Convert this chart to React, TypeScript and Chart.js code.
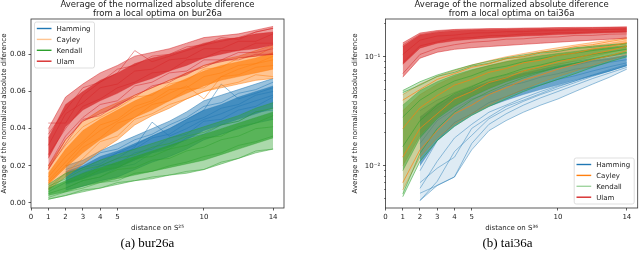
import React, { useEffect, useRef } from 'react';
import { Chart, registerables } from 'chart.js';

Chart.register(...registerables);
Chart.defaults.font.family = "'DejaVu Sans', sans-serif";

// ---------- shared axes ----------
const distances = [1, 2, 3, 4, 5, 6, 7, 8, 9, 10, 11, 12, 13, 14];
const xTickValues = [0, 1, 2, 3, 4, 5, 10, 14];
const seriesNames = ['Hamming', 'Cayley', 'Kendall', 'Ulam'];

// ---------- (a) bur26a : linear y ----------
const burYTicks = [0, 0.02, 0.04, 0.06, 0.08];

const burUlamLo = [0.018, 0.034, 0.044, 0.048, 0.052, 0.058, 0.062, 0.066, 0.069, 0.074, 0.076, 0.078, 0.079, 0.080];
const burUlamHi = [0.040, 0.057, 0.064, 0.070, 0.074, 0.079, 0.081, 0.083, 0.086, 0.089, 0.090, 0.091, 0.093, 0.095];
const burUlamCoreLo = [0.024, 0.041, 0.050, 0.055, 0.059, 0.064, 0.067, 0.071, 0.074, 0.078, 0.080, 0.082, 0.083, 0.085];
const burUlamCoreHi = [0.035, 0.053, 0.060, 0.066, 0.070, 0.075, 0.078, 0.080, 0.083, 0.086, 0.088, 0.089, 0.091, 0.092];
const burUlam1 = [0.037, 0.050, 0.062, 0.065, 0.072, 0.074, 0.079, 0.080, 0.084, 0.085, 0.089, 0.088, 0.092, 0.094];
const burUlam2 = [0.031, 0.048, 0.054, 0.062, 0.064, 0.071, 0.072, 0.077, 0.078, 0.083, 0.083, 0.087, 0.087, 0.091];
const burUlam3 = [0.026, 0.040, 0.052, 0.056, 0.062, 0.065, 0.070, 0.071, 0.077, 0.078, 0.082, 0.082, 0.086, 0.086];
const burUlam4 = [0.020, 0.036, 0.046, 0.053, 0.055, 0.063, 0.065, 0.070, 0.071, 0.077, 0.077, 0.081, 0.081, 0.083];
const burUlamOut1 = [0.043, 0.043, 0.058, 0.065, 0.070, 0.082, 0.076, 0.079, 0.082, 0.085, 0.087, 0.089, 0.092, 0.094];
const burUlamOut2 = [0.018, 0.032, 0.045, 0.047, 0.053, 0.057, 0.063, 0.065, 0.070, 0.073, 0.077, 0.077, 0.080, 0.080];

const burCayleyLo = [0.007, 0.014, 0.021, 0.028, 0.034, 0.042, 0.047, 0.051, 0.056, 0.060, 0.062, 0.064, 0.066, 0.067];
const burCayleyHi = [0.020, 0.034, 0.044, 0.050, 0.054, 0.058, 0.062, 0.066, 0.070, 0.074, 0.077, 0.079, 0.082, 0.085];
const burCayleyCoreLo = [0.010, 0.019, 0.027, 0.034, 0.039, 0.046, 0.050, 0.055, 0.059, 0.063, 0.066, 0.068, 0.070, 0.072];
const burCayleyCoreHi = [0.016, 0.029, 0.039, 0.045, 0.050, 0.055, 0.059, 0.063, 0.067, 0.071, 0.074, 0.076, 0.078, 0.081];
const burCayley1 = [0.019, 0.031, 0.041, 0.046, 0.051, 0.057, 0.058, 0.064, 0.066, 0.072, 0.073, 0.078, 0.079, 0.084];
const burCayley2 = [0.014, 0.025, 0.033, 0.042, 0.045, 0.052, 0.055, 0.061, 0.062, 0.068, 0.070, 0.074, 0.075, 0.079];
const burCayley3 = [0.011, 0.020, 0.030, 0.035, 0.043, 0.046, 0.053, 0.055, 0.061, 0.062, 0.068, 0.069, 0.073, 0.074];
const burCayley4 = [0.008, 0.016, 0.024, 0.033, 0.036, 0.045, 0.048, 0.053, 0.056, 0.060, 0.063, 0.065, 0.069, 0.068];
const burCayleyOut = [0.012, 0.022, 0.032, 0.039, 0.044, 0.050, 0.054, 0.059, 0.063, 0.056, 0.068, 0.072, 0.075, 0.077];

const burHammingLo = [null, 0.007, 0.009, 0.012, 0.014, 0.018, 0.022, 0.025, 0.029, 0.034, 0.037, 0.040, 0.043, 0.045];
const burHammingHi = [null, 0.020, 0.023, 0.028, 0.032, 0.036, 0.040, 0.044, 0.049, 0.055, 0.058, 0.061, 0.064, 0.067];
const burHammingCoreLo = [null, 0.010, 0.013, 0.016, 0.019, 0.023, 0.027, 0.030, 0.034, 0.039, 0.042, 0.045, 0.048, 0.051];
const burHammingCoreHi = [null, 0.017, 0.020, 0.025, 0.028, 0.032, 0.036, 0.040, 0.045, 0.050, 0.053, 0.057, 0.060, 0.063];
const burHamming1 = [null, 0.018, 0.021, 0.027, 0.029, 0.034, 0.037, 0.042, 0.046, 0.052, 0.054, 0.059, 0.061, 0.065];
const burHamming2 = [null, 0.014, 0.019, 0.021, 0.027, 0.029, 0.035, 0.037, 0.043, 0.046, 0.051, 0.053, 0.058, 0.060];
const burHamming3 = [null, 0.011, 0.014, 0.020, 0.021, 0.027, 0.029, 0.035, 0.037, 0.044, 0.045, 0.050, 0.052, 0.057];
const burHamming4 = [null, 0.008, 0.012, 0.014, 0.019, 0.021, 0.027, 0.029, 0.035, 0.037, 0.042, 0.044, 0.049, 0.050];
const burHammingOut1 = [null, 0.012, 0.016, 0.020, 0.024, 0.030, 0.0435, 0.036, 0.040, 0.045, 0.048, 0.052, 0.055, 0.058];
const burHammingOut2 = [null, 0.015, 0.019, 0.023, 0.027, 0.031, 0.036, 0.040, 0.045, 0.050, 0.064, 0.056, 0.059, 0.062];

const burKendallLo = [0.002, 0.004, 0.006, 0.008, 0.010, 0.012, 0.013, 0.015, 0.016, 0.018, 0.021, 0.024, 0.027, 0.029];
const burKendallHi = [0.010, 0.016, 0.019, 0.023, 0.026, 0.029, 0.032, 0.035, 0.038, 0.041, 0.044, 0.047, 0.051, 0.054];
const burKendallCoreLo = [0.004, 0.006, 0.009, 0.011, 0.013, 0.015, 0.017, 0.019, 0.021, 0.023, 0.026, 0.029, 0.032, 0.035];
const burKendallCoreHi = [0.008, 0.012, 0.016, 0.019, 0.022, 0.025, 0.028, 0.031, 0.034, 0.037, 0.040, 0.043, 0.046, 0.049];
const burKendall1 = [0.009, 0.013, 0.018, 0.020, 0.024, 0.026, 0.030, 0.032, 0.036, 0.038, 0.042, 0.044, 0.049, 0.051];
const burKendall2 = [0.006, 0.011, 0.013, 0.018, 0.019, 0.024, 0.025, 0.029, 0.031, 0.035, 0.036, 0.041, 0.043, 0.047];
const burKendall3 = [0.005, 0.008, 0.012, 0.014, 0.018, 0.019, 0.023, 0.024, 0.028, 0.030, 0.034, 0.036, 0.040, 0.041];
const burKendall4 = [0.003, 0.006, 0.008, 0.011, 0.012, 0.016, 0.017, 0.020, 0.022, 0.025, 0.027, 0.031, 0.033, 0.036];
const burKendall5 = [0.002, 0.004, 0.007, 0.008, 0.011, 0.012, 0.014, 0.015, 0.017, 0.018, 0.022, 0.024, 0.028, 0.029];

// ---------- (b) tai36a : log y ----------
const taiYMajorTicks = [0.01, 0.1];
const taiYMajorLabels = ['10⁻²', '10⁻¹'];
const taiYMinorTicks = [0.005, 0.006, 0.007, 0.008, 0.009, 0.02, 0.03, 0.04, 0.05, 0.06, 0.07, 0.08, 0.09, 0.2];

const taiHammingLo = [null, 0.0048, 0.0066, 0.0079, 0.014, 0.021, 0.026, 0.031, 0.036, 0.041, 0.048, 0.056, 0.065, 0.077];
const taiHammingHi = [null, 0.032, 0.040, 0.047, 0.054, 0.062, 0.068, 0.074, 0.080, 0.086, 0.091, 0.096, 0.101, 0.107];
const taiHammingCoreLo = [null, 0.010, 0.017, 0.023, 0.029, 0.035, 0.040, 0.045, 0.050, 0.055, 0.061, 0.067, 0.074, 0.083];
const taiHammingCoreHi = [null, 0.028, 0.037, 0.045, 0.052, 0.059, 0.065, 0.071, 0.077, 0.083, 0.088, 0.093, 0.098, 0.104];
const taiHamming1 = [null, 0.026, 0.034, 0.043, 0.049, 0.057, 0.061, 0.069, 0.073, 0.080, 0.084, 0.091, 0.095, 0.102];
const taiHamming2 = [null, 0.016, 0.026, 0.033, 0.041, 0.046, 0.054, 0.058, 0.065, 0.070, 0.077, 0.081, 0.089, 0.094];
const taiHamming3 = [null, 0.009, 0.017, 0.025, 0.030, 0.038, 0.043, 0.050, 0.055, 0.062, 0.067, 0.074, 0.081, 0.088];
const taiHamming4 = [null, 0.0062, 0.011, 0.018, 0.024, 0.031, 0.036, 0.042, 0.048, 0.054, 0.060, 0.067, 0.074, 0.083];
const taiHammingOut1 = [null, 0.0056, 0.0066, 0.0079, 0.016, 0.024, 0.030, 0.036, 0.042, 0.048, 0.055, 0.063, 0.071, 0.080];
const taiHammingOut2 = [null, 0.0048, 0.0072, 0.0135, 0.019, 0.027, 0.033, 0.039, 0.045, 0.051, 0.058, 0.066, 0.074, 0.083];
const taiHammingOut3 = [null, 0.0070, 0.0095, 0.012, 0.022, 0.028, 0.035, 0.040, 0.046, 0.053, 0.060, 0.068, 0.076, 0.085];

const taiCayleyLo = [0.006, 0.012, 0.018, 0.024, 0.030, 0.036, 0.043, 0.050, 0.058, 0.066, 0.074, 0.083, 0.093, 0.105];
const taiCayleyHi = [0.045, 0.056, 0.066, 0.075, 0.084, 0.092, 0.100, 0.107, 0.114, 0.121, 0.128, 0.135, 0.142, 0.150];
const taiCayleyCoreLo = [0.010, 0.019, 0.028, 0.036, 0.044, 0.052, 0.060, 0.068, 0.076, 0.084, 0.092, 0.100, 0.109, 0.118];
const taiCayleyCoreHi = [0.032, 0.045, 0.056, 0.066, 0.075, 0.083, 0.091, 0.098, 0.105, 0.112, 0.119, 0.126, 0.133, 0.142];
const taiCayley1 = [0.040, 0.050, 0.062, 0.070, 0.080, 0.086, 0.096, 0.101, 0.110, 0.115, 0.124, 0.129, 0.138, 0.146];
const taiCayley2 = [0.022, 0.034, 0.044, 0.055, 0.062, 0.072, 0.078, 0.088, 0.093, 0.103, 0.108, 0.118, 0.124, 0.135];
const taiCayley3 = [0.012, 0.022, 0.030, 0.041, 0.048, 0.058, 0.064, 0.074, 0.081, 0.090, 0.097, 0.106, 0.114, 0.125];
const taiCayley4 = [0.007, 0.014, 0.021, 0.030, 0.036, 0.045, 0.052, 0.061, 0.068, 0.077, 0.085, 0.094, 0.102, 0.114];

const taiKendallLo = [0.0052, 0.011, 0.017, 0.023, 0.029, 0.035, 0.041, 0.048, 0.055, 0.062, 0.070, 0.080, 0.090, 0.100];
const taiKendallHi = [0.049, 0.059, 0.068, 0.076, 0.084, 0.091, 0.098, 0.104, 0.110, 0.116, 0.121, 0.125, 0.129, 0.133];
const taiKendallCoreLo = [0.009, 0.018, 0.027, 0.035, 0.043, 0.051, 0.059, 0.066, 0.073, 0.080, 0.087, 0.094, 0.101, 0.108];
const taiKendallCoreHi = [0.036, 0.049, 0.059, 0.068, 0.076, 0.083, 0.090, 0.096, 0.102, 0.107, 0.112, 0.117, 0.122, 0.127];
const taiKendall1 = [0.047, 0.055, 0.066, 0.072, 0.082, 0.087, 0.096, 0.100, 0.108, 0.112, 0.119, 0.122, 0.127, 0.131];
const taiKendall2 = [0.028, 0.040, 0.050, 0.060, 0.067, 0.077, 0.082, 0.090, 0.096, 0.103, 0.108, 0.114, 0.119, 0.124];
const taiKendall3 = [0.015, 0.026, 0.036, 0.046, 0.053, 0.063, 0.069, 0.078, 0.084, 0.092, 0.098, 0.105, 0.111, 0.117];
const taiKendall4 = [0.0055, 0.013, 0.022, 0.031, 0.040, 0.048, 0.056, 0.064, 0.072, 0.080, 0.087, 0.095, 0.103, 0.110];

const taiUlamLo = [0.065, 0.097, 0.110, 0.117, 0.121, 0.124, 0.127, 0.130, 0.133, 0.136, 0.139, 0.142, 0.145, 0.148];
const taiUlamHi = [0.134, 0.165, 0.174, 0.178, 0.180, 0.181, 0.182, 0.183, 0.184, 0.185, 0.186, 0.186, 0.187, 0.188];
const taiUlamCoreLo = [0.085, 0.120, 0.133, 0.140, 0.145, 0.149, 0.152, 0.155, 0.157, 0.160, 0.162, 0.164, 0.166, 0.168];
const taiUlamCoreHi = [0.125, 0.158, 0.168, 0.173, 0.175, 0.177, 0.178, 0.179, 0.180, 0.181, 0.182, 0.182, 0.183, 0.184];
const taiUlam1 = [0.128, 0.160, 0.170, 0.176, 0.176, 0.180, 0.179, 0.182, 0.182, 0.184, 0.183, 0.185, 0.185, 0.186];
const taiUlam2 = [0.105, 0.142, 0.155, 0.158, 0.165, 0.166, 0.170, 0.170, 0.173, 0.174, 0.176, 0.176, 0.178, 0.179];
const taiUlam3 = [0.088, 0.126, 0.137, 0.148, 0.150, 0.156, 0.157, 0.162, 0.162, 0.166, 0.166, 0.169, 0.170, 0.172];
const taiUlam4 = [0.070, 0.105, 0.120, 0.129, 0.136, 0.139, 0.145, 0.146, 0.151, 0.152, 0.157, 0.157, 0.161, 0.162];

// ---------- helpers ----------
const RGB = {
  Hamming: '31,119,180',
  Cayley: '255,127,14',
  Kendall: '44,160,44',
  Ulam: '214,39,40',
};

type Arr = (number | null)[];
type Group = {
  rgb: string;
  lo?: Arr;
  hi?: Arr;
  coreLo?: Arr;
  coreHi?: Arr;
  lines: Arr[];
  outerA?: number;
  coreA?: number;
  lineA: number;
};

function toPoints(arr: Arr) {
  const out: { x: number; y: number }[] = [];
  arr.forEach((v, i) => {
    if (v !== null) out.push({ x: distances[i], y: v });
  });
  return out;
}

function buildDatasets(groups: Group[]) {
  const list: any[] = [];
  for (const g of groups) {
    const base = {
      borderWidth: 0.9,
      pointRadius: 0,
      pointHoverRadius: 0,
      tension: 0,
      borderColor: `rgba(${g.rgb},${g.lineA})`,
      yAxisID: 'y',
    };
    if (g.lo && g.hi) {
      list.push({ ...base, data: toPoints(g.lo), fill: false });
      list.push({ ...base, data: toPoints(g.hi), fill: '-1', backgroundColor: `rgba(${g.rgb},${g.outerA})` });
    }
    if (g.coreLo && g.coreHi) {
      list.push({ ...base, borderWidth: 0.6, data: toPoints(g.coreLo), fill: false });
      list.push({ ...base, borderWidth: 0.6, data: toPoints(g.coreHi), fill: '-1', backgroundColor: `rgba(${g.rgb},${g.coreA})` });
    }
    for (const l of g.lines) list.push({ ...base, data: toPoints(l), fill: false });
  }
  const n = list.length;
  list.forEach((d, i) => {
    d.order = n - i;
  });
  return list;
}

function makeOverlay(corner: 'tl' | 'br', colors: string[]) {
  return {
    id: 'overlay_' + corner,
    afterDatasetsDraw(chart: any) {
      const { ctx, chartArea: a } = chart;
      ctx.save();
      ctx.strokeStyle = '#333';
      ctx.lineWidth = 0.8;
      ctx.strokeRect(a.left, a.top, a.right - a.left, a.bottom - a.top);
      const w = 60;
      const h = 46;
      const x0 = corner === 'tl' ? a.left + 3.5 : a.right - 3.5 - w;
      const y0 = corner === 'tl' ? a.top + 3 : a.bottom - 4 - h;
      ctx.beginPath();
      ctx.roundRect(x0, y0, w, h, 2);
      ctx.fillStyle = 'rgba(255,255,255,0.8)';
      ctx.fill();
      ctx.strokeStyle = 'rgba(204,204,204,0.8)';
      ctx.lineWidth = 0.8;
      ctx.stroke();
      ctx.font = "7px 'DejaVu Sans'";
      ctx.textBaseline = 'middle';
      ctx.textAlign = 'left';
      seriesNames.forEach((name, i) => {
        const y = y0 + 6.5 + i * 10.9;
        ctx.beginPath();
        ctx.moveTo(x0 + 2.3, y);
        ctx.lineTo(x0 + 17, y);
        ctx.strokeStyle = colors[i];
        ctx.lineWidth = 1.4;
        ctx.stroke();
        ctx.fillStyle = '#222';
        ctx.fillText(name, x0 + 22, y + 0.5);
      });
      ctx.restore();
    },
  };
}

const tickFont = { size: 7 };
const textColor = '#222';
const yTitle = 'Average of the normalized absolute diference';

function xScale(title: string) {
  return {
    type: 'linear',
    min: 0,
    max: 14.63,
    afterBuildTicks: (s: any) => {
      s.ticks = xTickValues.map((v) => ({ value: v }));
    },
    afterFit: (s: any) => {
      s.height = 24;
    },
    ticks: { font: tickFont, color: textColor, padding: 2.8, maxRotation: 0, autoSkip: false, callback: (v: any) => String(v) },
    grid: { drawOnChartArea: false, tickLength: 2.5, color: '#333', lineWidth: 0.8 },
    border: { display: false },
    title: { display: true, text: title, font: { size: 7, lineHeight: '8px' }, color: textColor, padding: 0 },
  };
}

function titlePlugin(name: string) {
  return {
    display: true,
    fullSize: false,
    text: [yTitle, 'from a local optima on ' + name],
    font: { size: 8.5, weight: 'normal', lineHeight: '9px' },
    color: textColor,
    padding: { top: 0, bottom: 1 },
  };
}

const burConfig: any = {
  type: 'line',
  data: {
    datasets: buildDatasets([
      { rgb: RGB.Hamming, lo: burHammingLo, hi: burHammingHi, coreLo: burHammingCoreLo, coreHi: burHammingCoreHi, lines: [burHamming1, burHamming2, burHamming3, burHamming4, burHammingOut1, burHammingOut2], outerA: 0.45, coreA: 0.7, lineA: 0.55 },
      { rgb: RGB.Cayley, lo: burCayleyLo, hi: burCayleyHi, coreLo: burCayleyCoreLo, coreHi: burCayleyCoreHi, lines: [burCayley1, burCayley2, burCayley3, burCayley4, burCayleyOut], outerA: 0.45, coreA: 0.7, lineA: 0.55 },
      { rgb: RGB.Kendall, lo: burKendallLo, hi: burKendallHi, coreLo: burKendallCoreLo, coreHi: burKendallCoreHi, lines: [burKendall1, burKendall2, burKendall3, burKendall4, burKendall5], outerA: 0.4, coreA: 0.65, lineA: 0.5 },
      { rgb: RGB.Ulam, lo: burUlamLo, hi: burUlamHi, coreLo: burUlamCoreLo, coreHi: burUlamCoreHi, lines: [burUlam1, burUlam2, burUlam3, burUlam4, burUlamOut1, burUlamOut2], outerA: 0.45, coreA: 0.75, lineA: 0.55 },
    ]),
  },
  options: {
    responsive: false,
    animation: false,
    events: [],
    layout: { padding: { left: 0, right: 36, top: 0, bottom: 28 } },
    plugins: { legend: { display: false }, tooltip: { enabled: false }, title: titlePlugin('bur26a') },
    scales: {
      x: xScale('distance on S²⁵'),
      y: {
        type: 'linear',
        min: -0.0027,
        max: 0.099,
        afterBuildTicks: (s: any) => {
          s.ticks = burYTicks.map((v) => ({ value: v }));
        },
        afterFit: (s: any) => {
          s.width = 31;
        },
        ticks: { font: tickFont, color: textColor, padding: 2.8, callback: (v: any) => Number(v).toFixed(2) },
        grid: { drawOnChartArea: false, tickLength: 2.5, color: '#333', lineWidth: 0.8 },
        border: { display: false },
        title: { display: true, text: yTitle, font: { size: 7, lineHeight: '8px' }, color: textColor, padding: 0 },
      },
    },
  },
  plugins: [makeOverlay('tl', ['rgb(31,119,180)', 'rgba(255,127,14,0.45)', 'rgb(44,160,44)', 'rgb(214,39,40)'])],
};

const taiConfig: any = {
  type: 'line',
  data: {
    datasets: buildDatasets([
      { rgb: RGB.Hamming, lo: taiHammingLo, hi: taiHammingHi, coreLo: taiHammingCoreLo, coreHi: taiHammingCoreHi, lines: [taiHamming1, taiHamming2, taiHamming3, taiHamming4, taiHammingOut1, taiHammingOut2, taiHammingOut3], outerA: 0.15, coreA: 0.6, lineA: 0.5 },
      { rgb: RGB.Cayley, lo: taiCayleyLo, hi: taiCayleyHi, coreLo: taiCayleyCoreLo, coreHi: taiCayleyCoreHi, lines: [], outerA: 0.25, coreA: 0.35, lineA: 0.5 },
      { rgb: RGB.Kendall, lo: taiKendallLo, hi: taiKendallHi, coreLo: taiKendallCoreLo, coreHi: taiKendallCoreHi, lines: [taiKendall1, taiKendall2, taiKendall3, taiKendall4], outerA: 0.25, coreA: 0.45, lineA: 0.6 },
      { rgb: RGB.Cayley, lines: [taiCayley1, taiCayley2, taiCayley3, taiCayley4], lineA: 0.75 },
      { rgb: RGB.Ulam, lo: taiUlamLo, hi: taiUlamHi, coreLo: taiUlamCoreLo, coreHi: taiUlamCoreHi, lines: [taiUlam1, taiUlam2, taiUlam3, taiUlam4], outerA: 0.5, coreA: 0.75, lineA: 0.55 },
    ]),
  },
  options: {
    responsive: false,
    animation: false,
    events: [],
    layout: { padding: { left: 31, right: 2.3, top: 0, bottom: 28 } },
    plugins: { legend: { display: false }, tooltip: { enabled: false }, title: titlePlugin('tai36a') },
    scales: {
      x: xScale('distance on S³⁶'),
      y: {
        type: 'logarithmic',
        position: 'left',
        weight: 1,
        min: 0.0041,
        max: 0.222,
        afterBuildTicks: (s: any) => {
          s.ticks = taiYMajorTicks.map((v) => ({ value: v }));
        },
        afterFit: (s: any) => {
          s.width = 34.5;
        },
        ticks: {
          font: tickFont,
          color: textColor,
          padding: 2.8,
          callback: (v: any) => {
            const i = taiYMajorTicks.findIndex((t) => Math.abs(t - v) < 1e-9);
            return i >= 0 ? taiYMajorLabels[i] : '';
          },
        },
        grid: { drawOnChartArea: false, tickLength: 2.5, color: '#333', lineWidth: 0.8 },
        border: { display: false },
        title: { display: true, text: yTitle, font: { size: 7, lineHeight: '8px' }, color: textColor, padding: 0 },
      },
      yMinor: {
        type: 'logarithmic',
        position: 'left',
        weight: 0,
        min: 0.0041,
        max: 0.222,
        afterBuildTicks: (s: any) => {
          s.ticks = taiYMinorTicks.map((v) => ({ value: v }));
        },
        afterFit: (s: any) => {
          s.width = 0;
        },
        ticks: { display: false },
        grid: { drawOnChartArea: false, tickLength: 1.5, color: '#333', lineWidth: 0.6 },
        border: { display: false },
      },
    },
  },
  plugins: [makeOverlay('br', ['rgb(31,119,180)', 'rgb(255,127,14)', 'rgba(44,160,44,0.45)', 'rgb(214,39,40)'])],
};

function ChartCanvas({ config, left }: { config: any; left: number }) {
  const ref = useRef<HTMLCanvasElement | null>(null);
  useEffect(() => {
    if (!ref.current) return;
    const chart = new Chart(ref.current, config);
    return () => chart.destroy();
  }, [config]);
  return (
    <canvas
      ref={ref}
      width={320}
      height={260}
      style={{ position: 'absolute', left, top: 0, width: 320, height: 260, display: 'block' }}
    />
  );
}

const captionStyle: React.CSSProperties = {
  position: 'absolute',
  top: 236,
  width: 120,
  textAlign: 'center',
  fontFamily: "'Liberation Serif', serif",
  fontSize: 13,
  lineHeight: '14px',
  color: '#000',
};

export default function App() {
  return (
    <div style={{ position: 'absolute', left: 0, top: 0, width: 640, height: 260, background: '#fff', overflow: 'hidden' }}>
      <ChartCanvas config={burConfig} left={0} />
      <ChartCanvas config={taiConfig} left={320} />
      <div style={{ ...captionStyle, left: 147.5 - 60 }}>(a) bur26a</div>
      <div style={{ ...captionStyle, left: 507.5 - 60 }}>(b) tai36a</div>
    </div>
  );
}
